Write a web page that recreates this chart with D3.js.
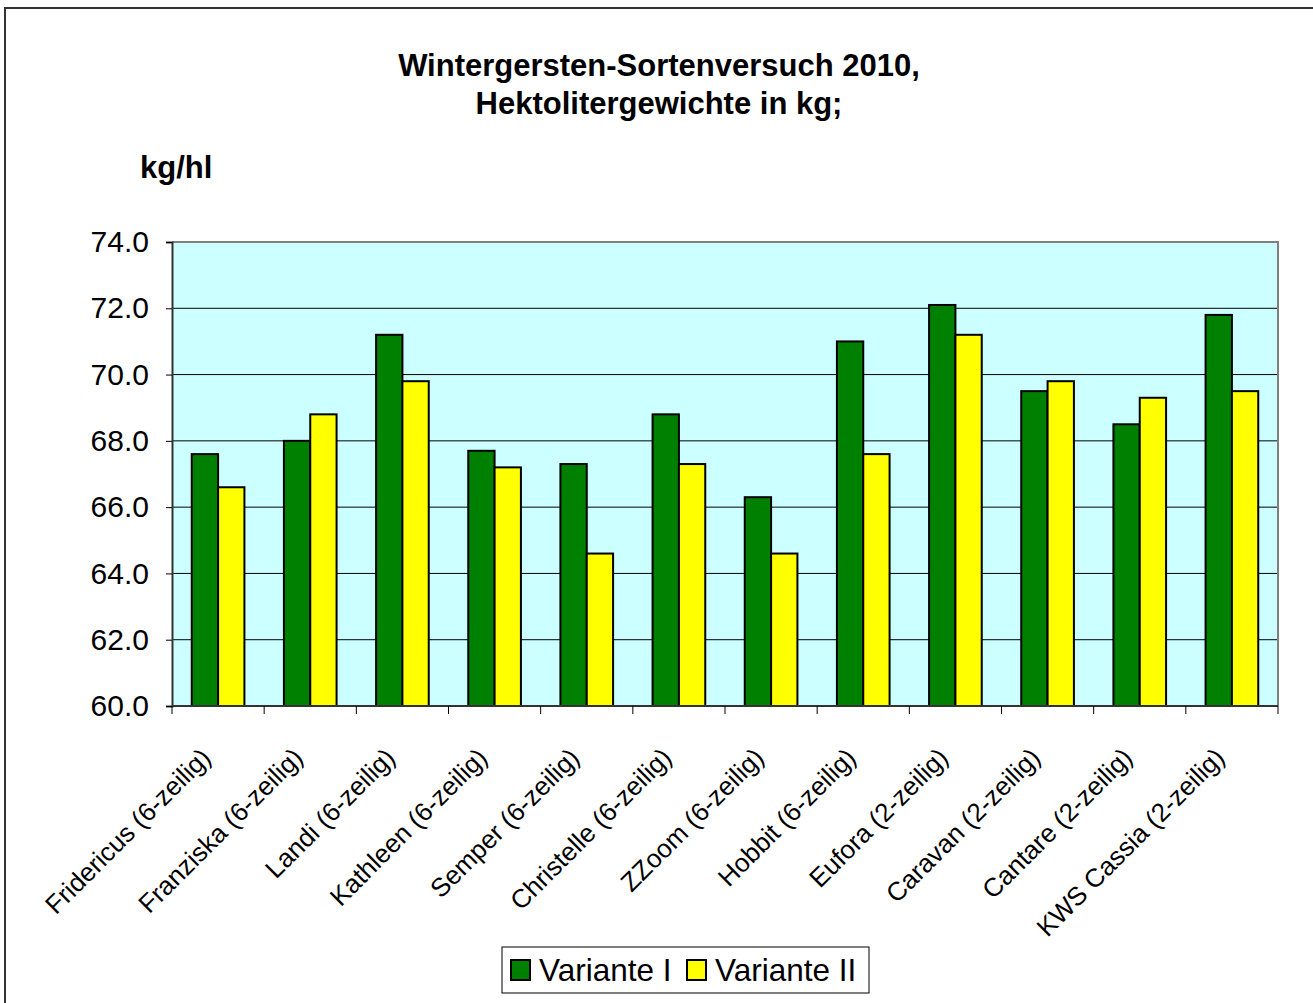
<!DOCTYPE html>
<html>
<head>
<meta charset="utf-8">
<script src="https://cdn.jsdelivr.net/npm/d3@7"></script>
<style>
  body { margin: 0; background: #fff; }
  svg { display: block; font-family: "Liberation Sans", Arial, sans-serif; }
</style>
</head>
<body>
<svg id="chart" width="1313" height="1003"></svg>
<script>
// Chart data
const categories = [
  "Fridericus (6-zeilig)", "Franziska (6-zeilig)", "Landi (6-zeilig)", "Kathleen (6-zeilig)",
  "Semper (6-zeilig)", "Christelle (6-zeilig)", "ZZoom (6-zeilig)", "Hobbit (6-zeilig)",
  "Eufora (2-zeilig)", "Caravan (2-zeilig)", "Cantare (2-zeilig)", "KWS Cassia (2-zeilig)"
];
const seriesNames = ["Variante I", "Variante II"];
const varianteI = [67.6, 68.0, 71.2, 67.7, 67.3, 68.8, 66.3, 71.0, 72.1, 69.5, 68.5, 71.8];
const varianteII = [66.6, 68.8, 69.8, 67.2, 64.6, 67.3, 64.6, 67.6, 71.2, 69.8, 69.3, 69.5];
const yTicks = [60, 62, 64, 66, 68, 70, 72, 74];
const titleLines = ["Wintergersten-Sortenversuch 2010,", "Hektolitergewichte in kg;"];

const colors = { "Variante I": "#008000", "Variante II": "#ffff00" };

// Plot area
const margin = { top: 242, right: 35, bottom: 297, left: 172 };
const width = 1313 - margin.left - margin.right;
const height = 1003 - margin.top - margin.bottom;

const svg = d3.select("#chart");

// Outer chart frame
svg.append("rect")
  .attr("x", 5).attr("y", 8)
  .attr("width", 1330).attr("height", 1020)
  .attr("fill", "none")
  .attr("stroke", "#333")
  .attr("stroke-width", 2);

// Title
svg.append("text")
  .attr("text-anchor", "middle")
  .style("font-size", "31px")
  .style("font-weight", "bold")
  .selectAll("tspan")
  .data(titleLines)
  .enter()
  .append("tspan")
  .attr("x", 659)
  .attr("y", (d, i) => 76 + i * 38)
  .text(d => d);

// Y unit label
svg.append("text")
  .attr("x", 140)
  .attr("y", 178)
  .style("font-size", "31px")
  .style("font-weight", "bold")
  .text("kg/hl");

const g = svg.append("g")
  .attr("transform", `translate(${ margin.left }, ${ margin.top })`);

// Scales
const x0 = d3.scaleBand()
  .domain(categories)
  .range([0, width])
  .paddingInner(0.4286)
  .paddingOuter(0.2143);

const x1 = d3.scaleBand()
  .domain(seriesNames)
  .range([0, x0.bandwidth()]);

const y = d3.scaleLinear()
  .domain([60, 74])
  .range([height, 0]);

// Plot background
g.append("rect")
  .attr("width", width)
  .attr("height", height)
  .attr("fill", "#ccffff");

// Gridlines
g.selectAll(".grid")
  .data(yTicks.slice(1, -1))
  .enter()
  .append("line")
  .attr("x1", 0).attr("x2", width)
  .attr("y1", d => y(d)).attr("y2", d => y(d))
  .attr("stroke", "#000")
  .attr("stroke-width", 1);

// Plot border top / right
g.append("path")
  .attr("d", `M0,0H${ width }V${ height }`)
  .attr("fill", "none")
  .attr("stroke", "#808080")
  .attr("stroke-width", 2);

// Bars
const rows = categories.map((c, i) => ({ cat: c, values: [varianteI[i], varianteII[i]] }));

const groups = g.selectAll(".group")
  .data(rows)
  .enter()
  .append("g")
  .attr("transform", d => `translate(${ x0(d.cat) }, 0)`);

groups.selectAll("rect")
  .data(d => d.values.map((v, j) => ({ series: seriesNames[j], value: v })))
  .enter()
  .append("rect")
  .attr("x", d => x1(d.series))
  .attr("y", d => y(d.value))
  .attr("width", x1.bandwidth())
  .attr("height", d => height - y(d.value))
  .attr("fill", d => colors[d.series])
  .attr("stroke", "#000")
  .attr("stroke-width", 2);

// Y axis
const yAxis = d3.axisLeft(y)
  .tickValues(yTicks)
  .tickFormat(d3.format(".1f"))
  .tickSize(6)
  .tickPadding(17);

const yAxisG = g.append("g").call(yAxis);
yAxisG.select(".domain").attr("stroke", "#333").attr("stroke-width", 2);
yAxisG.selectAll("text")
  .style("font-size", "30px")
  .style("font-family", "'Liberation Sans', Arial, sans-serif")
  .attr("fill", "#000");

// X axis: line + ticks at category boundaries
const step = x0.step();
const boundaries = d3.range(categories.length + 1).map(i => i * step);

g.append("line")
  .attr("x1", 0).attr("x2", width)
  .attr("y1", height).attr("y2", height)
  .attr("stroke", "#333")
  .attr("stroke-width", 2);

g.selectAll(".xtick")
  .data(boundaries)
  .enter()
  .append("line")
  .attr("x1", d => d).attr("x2", d => d)
  .attr("y1", height).attr("y2", height + 8)
  .attr("stroke", "#000")
  .attr("stroke-width", 1);

// Rotated category labels
g.selectAll(".xlabel")
  .data(categories)
  .enter()
  .append("text")
  .attr("transform", d => `translate(${ x0(d) + x0.bandwidth() / 2 - 19 }, ${ height + 40 }) rotate(-45)`)
  .attr("text-anchor", "end")
  .attr("dy", "0.72em")
  .style("font-size", "26px")
  .text(d => d);

// Legend
const legend = svg.append("g").attr("transform", "translate(502, 947)");
legend.append("rect")
  .attr("width", 367).attr("height", 46)
  .attr("fill", "#fff")
  .attr("stroke", "#000")
  .attr("stroke-width", 1);

const legendX = [9, 185];
seriesNames.forEach((s, i) => {
  legend.append("rect")
    .attr("x", legendX[i]).attr("y", 13)
    .attr("width", 19).attr("height", 20)
    .attr("fill", colors[s])
    .attr("stroke", "#000")
    .attr("stroke-width", 2);
  legend.append("text")
    .attr("x", legendX[i] + 28)
    .attr("y", 34)
    .style("font-size", "31.5px")
    .text(s);
});
</script>
</body>
</html>
